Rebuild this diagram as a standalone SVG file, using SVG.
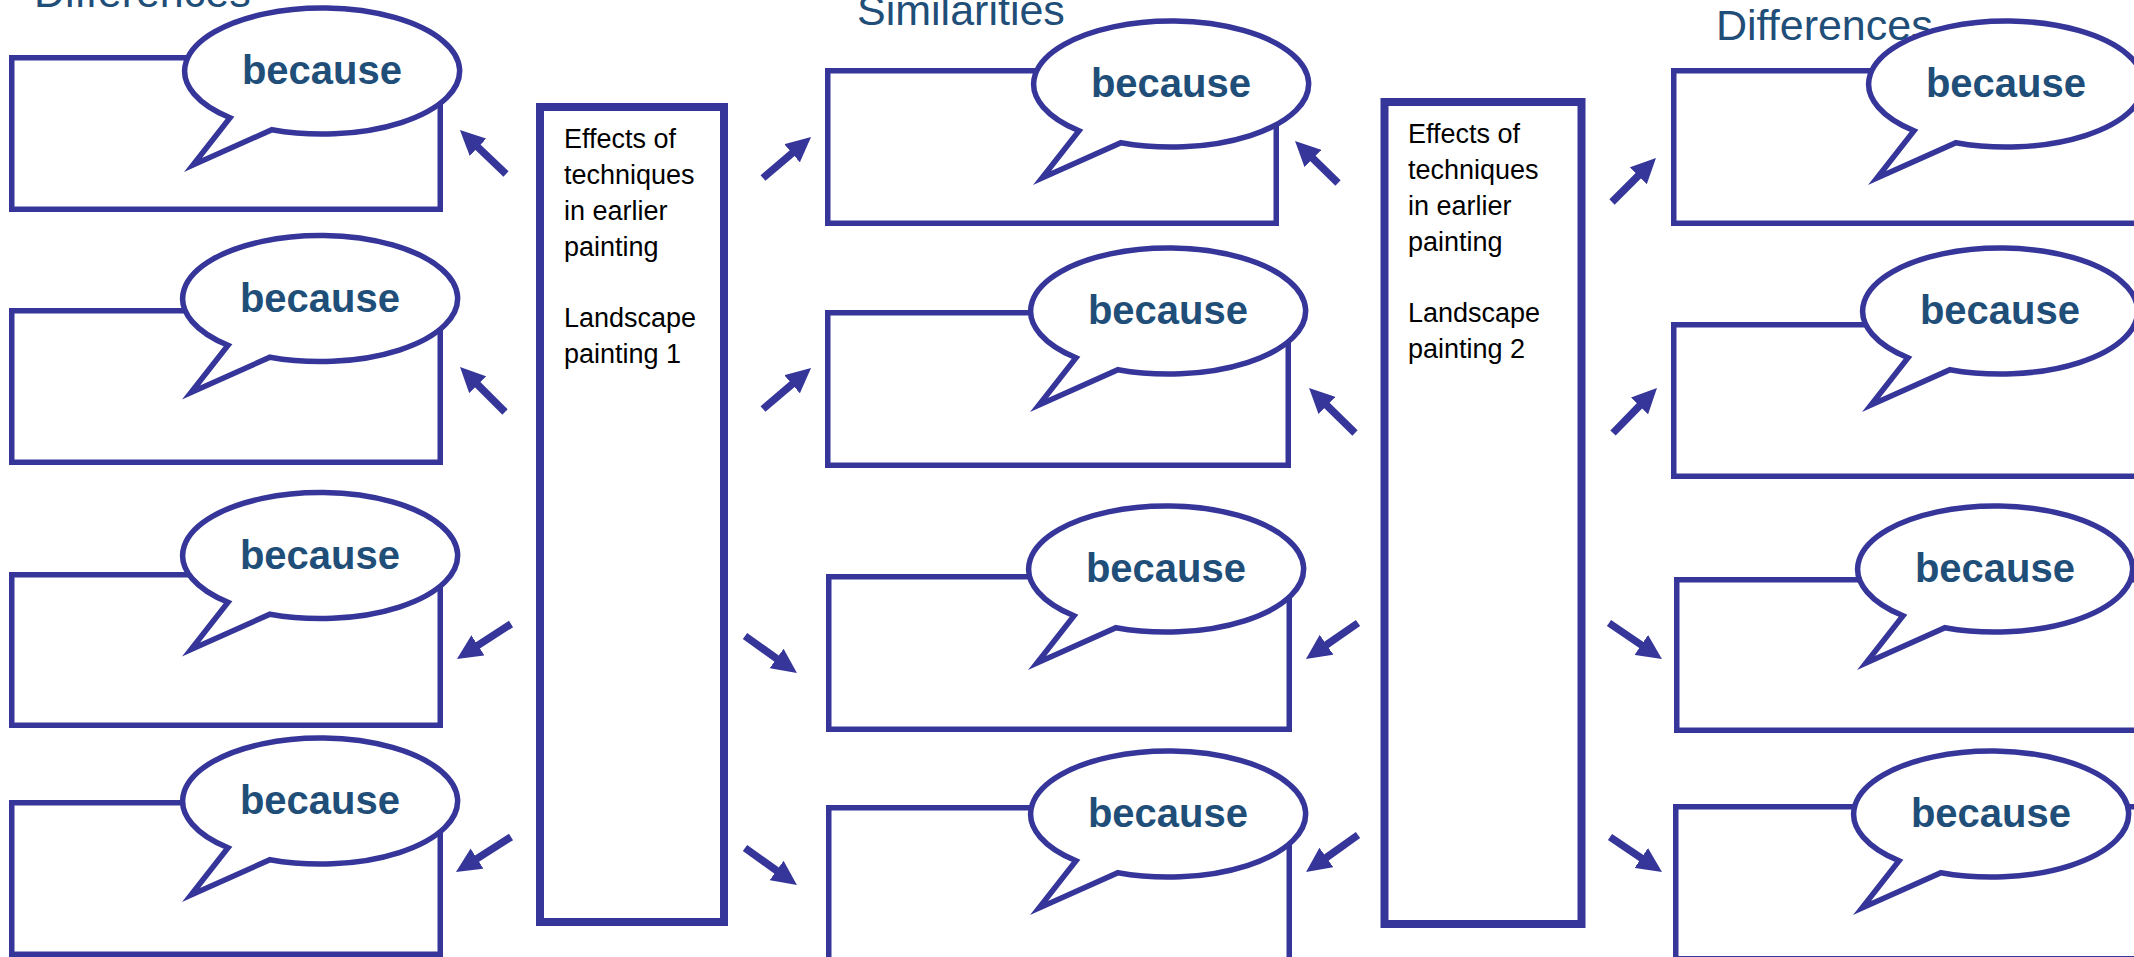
<svg xmlns="http://www.w3.org/2000/svg" xmlns:xlink="http://www.w3.org/1999/xlink" width="2134" height="957" viewBox="0 0 2134 957">
<style>
.box{fill:#fff;stroke:#35359a;stroke-width:5.5}
.tall{fill:#fff;stroke:#35359a;stroke-width:8}
.bub{fill:#fff;stroke:#35359a;stroke-width:5.5;stroke-miterlimit:12;stroke-linejoin:miter}
.bc{font-family:"Liberation Sans",Arial,sans-serif;font-weight:bold;font-size:40px;fill:#1f4e79;text-anchor:middle}
.hd{font-family:"Liberation Sans",Arial,sans-serif;font-size:43px;fill:#1f4e79}
.body{font-family:"Liberation Sans",Arial,sans-serif;font-size:27px;fill:#000}
.arr{stroke:#35359a;stroke-width:7.5;fill:none;marker-end:url(#head)}
</style>
<defs>
<path id="bubble" d="M-92,46.8 L-129,94 L-50,58.7 A137.5,63 0 1 0 -92,46.8 Z"/>
<marker id="head" markerUnits="userSpaceOnUse" viewBox="0 0 25 24" markerWidth="25" markerHeight="24" refX="1" refY="12" orient="auto">
<path d="M0,0 L25,12 L0,24 Z" fill="#35359a"/>
</marker>
</defs>
<rect width="2134" height="957" fill="#fff"/>

<text class="hd" x="34" y="7">Differences</text>
<text class="hd" x="857" y="25">Similarities</text>
<text class="hd" x="1716" y="40">Differences</text>

<g id="left-1"><rect class="box" x="11.75" y="57.75" width="428.5" height="151.5"/><use xlink:href="#bubble" class="bub" x="322" y="71"/><text class="bc" x="322" y="84">because</text></g>
<g id="left-2"><rect class="box" x="11.75" y="310.75" width="428.5" height="151.5"/><use xlink:href="#bubble" class="bub" x="320" y="298.5"/><text class="bc" x="320" y="311.5">because</text></g>
<g id="left-3"><rect class="box" x="11.75" y="574.75" width="428.5" height="150.5"/><use xlink:href="#bubble" class="bub" x="320" y="555.5"/><text class="bc" x="320" y="568.5">because</text></g>
<g id="left-4"><rect class="box" x="11.75" y="802.75" width="428.5" height="151.5"/><use xlink:href="#bubble" class="bub" x="320" y="801"/><text class="bc" x="320" y="814">because</text></g>

<g id="painting-1"><rect class="tall" x="540" y="107" width="184" height="815"/>
<text class="body" x="564" y="148">Effects of</text>
<text class="body" x="564" y="184">techniques</text>
<text class="body" x="564" y="220">in earlier</text>
<text class="body" x="564" y="256">painting</text>
<text class="body" x="564" y="327">Landscape</text>
<text class="body" x="564" y="363">painting 1</text></g>

<g id="mid-1"><rect class="box" x="827.75" y="70.75" width="448.5" height="152.5"/><use xlink:href="#bubble" class="bub" x="1171" y="84"/><text class="bc" x="1171" y="97">because</text></g>
<g id="mid-2"><rect class="box" x="827.75" y="312.75" width="460.5" height="152.5"/><use xlink:href="#bubble" class="bub" x="1168" y="311"/><text class="bc" x="1168" y="324">because</text></g>
<g id="mid-3"><rect class="box" x="828.75" y="576.75" width="460.5" height="152.5"/><use xlink:href="#bubble" class="bub" x="1166" y="569"/><text class="bc" x="1166" y="582">because</text></g>
<g id="mid-4"><rect class="box" x="828.75" y="807.75" width="460.5" height="152.5"/><use xlink:href="#bubble" class="bub" x="1168" y="814"/><text class="bc" x="1168" y="827">because</text></g>

<g id="painting-2"><rect class="tall" x="1384.5" y="102" width="197" height="822"/>
<text class="body" x="1408" y="143">Effects of</text>
<text class="body" x="1408" y="179">techniques</text>
<text class="body" x="1408" y="215">in earlier</text>
<text class="body" x="1408" y="251">painting</text>
<text class="body" x="1408" y="322">Landscape</text>
<text class="body" x="1408" y="358">painting 2</text></g>

<g id="right-1"><rect class="box" x="1673.75" y="70.75" width="500" height="152.5"/><use xlink:href="#bubble" class="bub" x="2006" y="84"/><text class="bc" x="2006" y="97">because</text></g>
<g id="right-2"><rect class="box" x="1673.75" y="324.75" width="500" height="151.5"/><use xlink:href="#bubble" class="bub" x="2000" y="311"/><text class="bc" x="2000" y="324">because</text></g>
<g id="right-3"><rect class="box" x="1676.75" y="579.75" width="500" height="150.5"/><use xlink:href="#bubble" class="bub" x="1995" y="569"/><text class="bc" x="1995" y="582">because</text></g>
<g id="right-4"><rect class="box" x="1675.75" y="806.75" width="500" height="152"/><use xlink:href="#bubble" class="bub" x="1991" y="814"/><text class="bc" x="1991" y="827">because</text></g>

<g id="connectors">
<line class="arr" x1="506" y1="174" x2="477.3" y2="146.6"/>
<line class="arr" x1="505" y1="412" x2="477" y2="384"/>
<line class="arr" x1="511" y1="624" x2="477.1" y2="645.9"/>
<line class="arr" x1="511" y1="837" x2="476.2" y2="859.1"/>
<line class="arr" x1="763" y1="178" x2="792.8" y2="152.6"/>
<line class="arr" x1="763" y1="409" x2="792.8" y2="383.6"/>
<line class="arr" x1="745" y1="636" x2="777.4" y2="659.1"/>
<line class="arr" x1="745" y1="848" x2="777.4" y2="871.1"/>
<line class="arr" x1="1338" y1="183" x2="1312.2" y2="157.8"/>
<line class="arr" x1="1355" y1="433" x2="1326.2" y2="404.8"/>
<line class="arr" x1="1358" y1="623" x2="1325.7" y2="645.3"/>
<line class="arr" x1="1358" y1="835" x2="1325.6" y2="858.1"/>
<line class="arr" x1="1612" y1="202" x2="1639" y2="175"/>
<line class="arr" x1="1613" y1="433" x2="1640.2" y2="405.2"/>
<line class="arr" x1="1609" y1="623" x2="1642.1" y2="645.5"/>
<line class="arr" x1="1610" y1="837" x2="1642.1" y2="858.6"/>
</g>
</svg>
